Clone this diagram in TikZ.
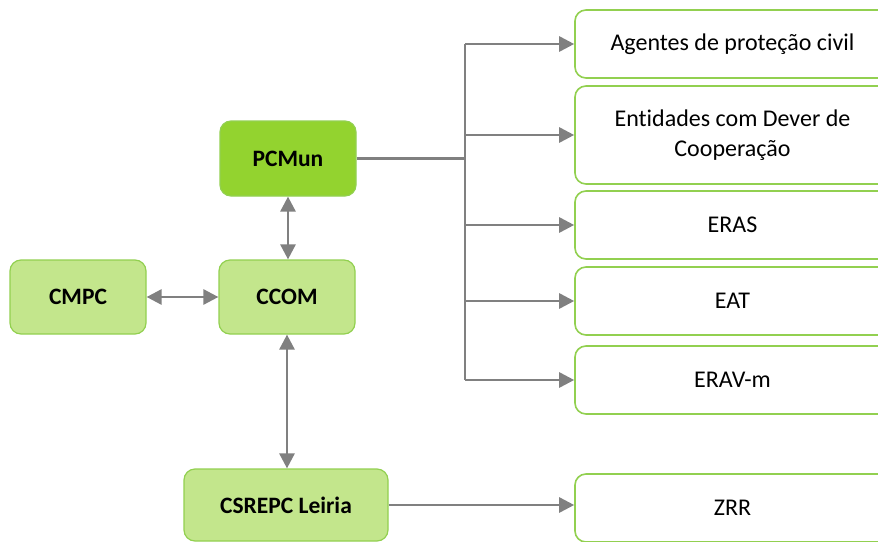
\documentclass[tikz,border=0pt]{standalone}
\usepackage{fontspec}
\setmainfont{Carlito}[Ligatures=NoCommon]
\usetikzlibrary{arrows.meta}
\definecolor{leaf}{HTML}{92D050}
\definecolor{pale}{HTML}{C3E68C}
\definecolor{bright}{HTML}{93D32F}
\definecolor{wire}{HTML}{808080}

\begin{document}
\begin{tikzpicture}[x=1pt, y=-1pt,
    box/.style={draw=leaf, line width=1.2pt, rounded corners=11pt, inner sep=0pt,
      align=center, font=\fontsize{24}{30}\selectfont},
    unit/.style={box, fill=pale, minimum width=136pt, minimum height=74pt,
      font=\fontsize{23.5}{30}\selectfont\bfseries},
    target/.style={box, fill=white, line width=1.6pt, minimum width=315pt, minimum height=68pt},
    link/.style={wire, line width=2.7pt},
    arr/.style={link, -{Triangle[length=15pt,width=15pt]}},
    twoway/.style={link, {Triangle[length=15pt,width=15pt]}-{Triangle[length=15pt,width=15pt]}}]
  \useasboundingbox (0,0) rectangle (878,541);

  % left side units
  \node[unit, fill=bright, minimum height=75pt] (pcmun) at (288,158.5) {PCMun};
  \node[unit] (cmpc) at (78,297) {CMPC};
  \node[unit] (ccom) at (287,297) {CCOM};
  \node[unit, minimum width=204pt, minimum height=72pt] (csrepc) at (286,505) {CSREPC Leiria};

  % right side targets
  \node[target] (agentes) at (732.5,44) {Agentes de proteção civil};
  \node[target, minimum height=98pt] (entidades) at (732.5,135) {Entidades com Dever de\\Cooperação};
  \node[target] (eras) at (732.5,225) {ERAS};
  \node[target] (eat) at (732.5,301) {EAT};
  \node[target] (eravm) at (732.5,380) {ERAV-m};
  \node[target] (zrr) at (732.5,508) {ZRR};

  % bus from PCMun to the agents
  \coordinate (bus) at (465,0);
  \draw[link] (pcmun.east) -- (bus |- pcmun.east);
  \draw[link] (bus |- agentes.west) -- (bus |- eravm.west);
  \foreach \t in {agentes,entidades,eras,eat,eravm}
    \draw[arr] (bus |- \t.west) -- (\t.west);

  % links between the units
  \draw[twoway] (pcmun.south) -- (pcmun.south |- ccom.north);
  \draw[twoway] (cmpc.east) -- (ccom.west);
  \draw[twoway] (ccom.south) -- (ccom.south |- csrepc.north);
  \draw[arr] (csrepc.east) -- (csrepc.east -| zrr.west);
\end{tikzpicture}
\end{document}
